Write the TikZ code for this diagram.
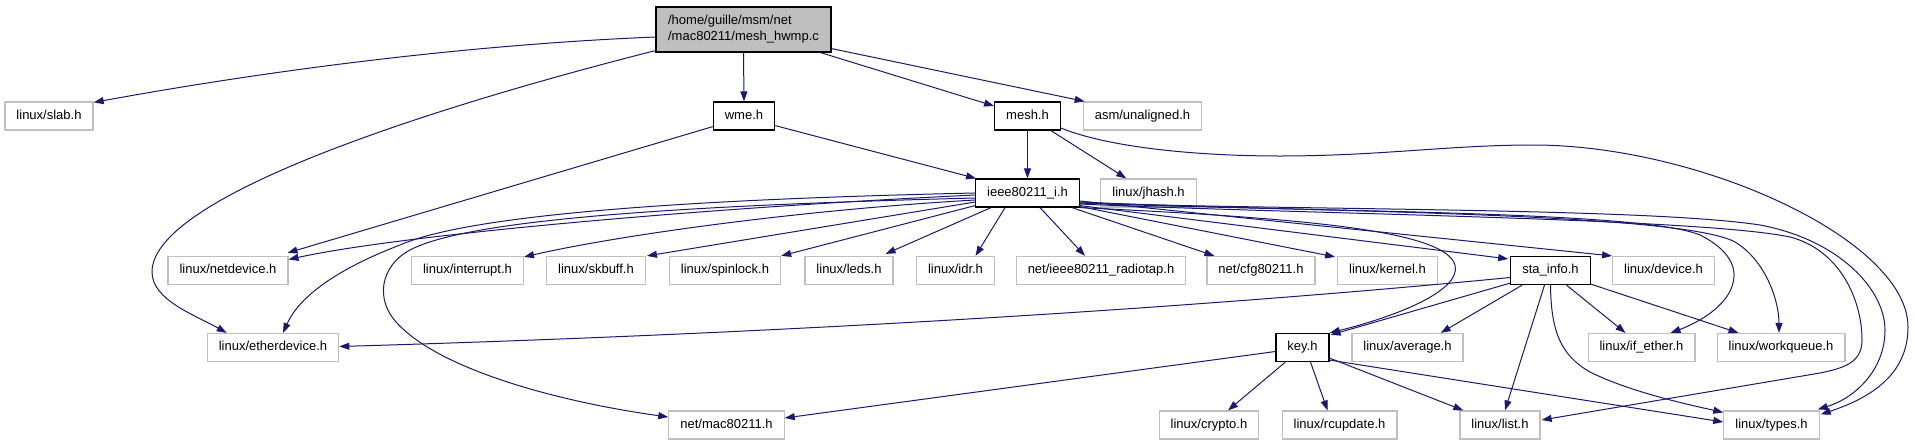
\documentclass[tikz,border=0pt]{standalone}
\usepackage{fontspec}
\setmainfont{Liberation Sans}
\usetikzlibrary{arrows.meta,calc}
\definecolor{edgec}{HTML}{191970}
\definecolor{greyb}{HTML}{BFBFBF}
\begin{document}
\begin{tikzpicture}[x=1pt,y=-1pt,
  box/.style={draw=black, line width=1.2pt, fill=white, minimum height=28pt, inner xsep=11.5pt, inner ysep=0pt, font=\fontsize{13}{16}\selectfont},
  one/.style={box, text height=9.5pt, text depth=3pt},
  doc/.style={one},
  ext/.style={one, draw=greyb},
  e/.style={draw=edgec, line width=1pt, -{Triangle[length=10pt,width=7pt]}},
]
\useasboundingbox (0,0) rectangle (1915,445);
% rank 0
\node[box, fill=greyb, align=left, minimum width=175pt, minimum height=45pt] (main) at (743.5,29.5) {/home/guille/msm/net\\/mac80211/mesh\_hwmp.c};
% rank 1
\node[ext] (slab) at (49,116) {linux/slab.h};
\node[doc] (wme) at (744,116) {wme.h};
\node[doc] (mesh) at (1027.5,116) {mesh.h};
\node[ext] (asm) at (1142.5,116) {asm/unaligned.h};
% rank 2
\node[doc] (ieee) at (1027.5,193) {ieee80211\_i.h};
\node[ext] (jhash) at (1148.5,193) {linux/jhash.h};
% rank 3
\node[ext] (netdev) at (228,270.5) {linux/netdevice.h};
\node[ext] (interrupt) at (467.5,270.5) {linux/interrupt.h};
\node[ext] (skbuff) at (596,270.5) {linux/skbuff.h};
\node[ext] (spinlock) at (725,270.5) {linux/spinlock.h};
\node[ext] (leds) at (849,270.5) {linux/leds.h};
\node[ext] (idr) at (955.5,270.5) {linux/idr.h};
\node[ext] (radiotap) at (1101,270.5) {net/ieee80211\_radiotap.h};
\node[ext] (cfg) at (1261,270.5) {net/cfg80211.h};
\node[ext] (kernel) at (1387.5,270.5) {linux/kernel.h};
\node[doc] (sta) at (1550.5,270.5) {sta\_info.h};
\node[ext] (device) at (1663.5,270.5) {linux/device.h};
% rank 4
\node[ext] (ether) at (273,347.5) {linux/etherdevice.h};
\node[doc] (key) at (1302.5,347.5) {key.h};
\node[ext] (average) at (1407.5,347.5) {linux/average.h};
\node[ext] (ifether) at (1641.5,347.5) {linux/if\_ether.h};
\node[ext] (workqueue) at (1781,347.5) {linux/workqueue.h};
% rank 5
\node[ext] (mac) at (726.5,425) {net/mac80211.h};
\node[ext] (crypto) at (1209,425) {linux/crypto.h};
\node[ext] (rcupdate) at (1339.5,425) {linux/rcupdate.h};
\node[ext] (list) at (1500,425) {linux/list.h};
\node[ext] (types) at (1771.5,425) {linux/types.h};

% edges from main
\draw[e] ($(main.west)+(0,7.5)$) .. controls (460,45) and (260,72) .. ($(slab.north east)+(0,1)$);
\draw[e] ($(main.south west)+(0,-2)$) .. controls (480,95) and (152,190) .. (152,272) .. controls (152,300) and (195,315) .. ($(ether.north west)+(20,0)$);
\draw[e] (main.south) -- (wme.north);
\draw[e] ($(main.south east)+(-11,0)$) -- ($(mesh.west)+(0,-10)$);
\draw[e] ($(main.south east)+(0,-4)$) -- ($(asm.north west)+(2,0)$);
% wme
\draw[e] ($(wme.south west)+(0,-4)$) -- ($(netdev.north east)+(-1,-3)$);
\draw[e] ($(wme.south east)+(0,-5)$) -- ($(ieee.north west)+(1,0)$);
% mesh
\draw[e] (mesh.south) -- (ieee.north);
\draw[e] ($(mesh.south east)+(-10,0)$) -- ($(jhash.north west)+(26,0)$);
\draw[e] ($(mesh.east)+(0,12)$) .. controls (1110,148) and (1200,156) .. (1280,156) .. controls (1380,156) and (1450,145) .. (1533,145) .. controls (1700,145) and (1908,240) .. (1908,327) .. controls (1908,375) and (1870,398) .. ($(types.north east)+(1,4)$);
% ieee to the left
\draw[e] ($(ieee.west)+(0,2)$) .. controls (700,208) and (400,235) .. ($(netdev.east)+(0,-11)$);
\draw[e] (ieee.west) .. controls (750,198) and (480,210) .. (400,245) .. controls (340,268) and (300,295) .. ($(ether.north)+(10,0)$);
\draw[e] ($(ieee.west)+(0,5)$) .. controls (700,205) and (470,218) .. (410,250) .. controls (380,266) and (375,300) .. (397,323) .. controls (440,370) and (560,402) .. ($(mac.west)+(0,-8)$);
\draw[e] ($(ieee.west)+(0,7)$) .. controls (800,210) and (620,235) .. ($(interrupt.north east)+(0,1)$);
\draw[e] ($(ieee.west)+(0,9)$) -- ($(skbuff.north east)+(1,0)$);
\draw[e] ($(ieee.south west)+(0,-2)$) -- (spinlock.north east);
\draw[e] ($(ieee.south west)+(16,0)$) -- ($(leds.north east)+(-8,-2)$);
\draw[e] ($(ieee.south west)+(30,0)$) -- ($(idr.north)+(20,0)$);
\draw[e] ($(ieee.south west)+(65,0)$) -- ($(radiotap.north)+(-16,0)$);
% ieee to the right
\draw[e] ($(ieee.south east)+(-8,0)$) -- ($(cfg.north west)+(8,0)$);
\draw[e] ($(ieee.south east)+(0,-1)$) -- ($(kernel.north west)+(-2,1)$);
\draw[e] ($(ieee.south east)+(0,-2)$) -- ($(sta.north west)+(-2,3)$);
\draw[e] ($(ieee.east)+(0,8)$) -- (device.north west);
\draw[e] (ieee.south east) .. controls (1300,218) and (1445,230) .. (1455,265) .. controls (1462,292) and (1390,318) .. (key.north east);
\draw[e] ($(ieee.east)+(0,9)$) .. controls (1300,212) and (1680,212) .. (1735,242) .. controls (1765,260) and (1779,300) .. ($(workqueue.north)+(-2,0)$);
\draw[e] ($(ieee.east)+(0,10)$) .. controls (1300,212) and (1640,210) .. (1700,235) .. controls (1730,250) and (1737,268) .. (1733,283) .. controls (1728,305) and (1700,322) .. ($(ifether.north east)+(-25,0)$);
\draw[e] ($(ieee.east)+(0,11)$) .. controls (1300,214) and (1700,218) .. (1790,237) .. controls (1840,250) and (1862,300) .. (1862,340) .. controls (1862,362) and (1845,368) .. (1820,373) -- ($(list.east)+(1,-5)$);
\draw[e] ($(ieee.east)+(0,10)$) .. controls (1300,210) and (1650,208) .. (1760,225) .. controls (1840,240) and (1885,290) .. (1885,330) .. controls (1885,370) and (1855,398) .. ($(types.north east)+(-2,-1)$);
% sta_info
\draw[e] ($(sta.west)+(0,7)$) .. controls (1300,298) and (900,330) .. ($(ether.east)+(0,-1)$);
\draw[e] ($(sta.south west)+(0,-2)$) -- ($(key.north east)+(1,2)$);
\draw[e] ($(sta.south west)+(12,0)$) -- ($(average.north east)+(-23,0)$);
\draw[e] ($(sta.south)+(-6,0)$) -- ($(list.north)+(5,0)$);
\draw[e] (sta.south) .. controls (1551,330) and (1560,355) .. (1590,372) .. controls (1630,392) and (1690,405) .. ($(types.north west)+(0,2)$);
\draw[e] ($(sta.south)+(16,0)$) -- ($(ifether.north)+(-16,0)$);
\draw[e] ($(sta.south east)+(0,-1)$) -- ($(workqueue.north west)+(22,0)$);
% key
\draw[e] ($(key.west)+(0,4)$) -- ($(mac.east)+(0,-7)$);
\draw[e] ($(key.south west)+(10,0)$) -- ($(crypto.north)+(19,0)$);
\draw[e] ($(key.south)+(8,0)$) -- ($(rcupdate.north)+(-12,0)$);
\draw[e] ($(key.south east)+(0,-4)$) -- ($(list.north west)+(4,0)$);
\draw[e] ($(key.south east)+(0,-2)$) -- ($(types.west)+(0,-3)$);
\end{tikzpicture}
\end{document}
